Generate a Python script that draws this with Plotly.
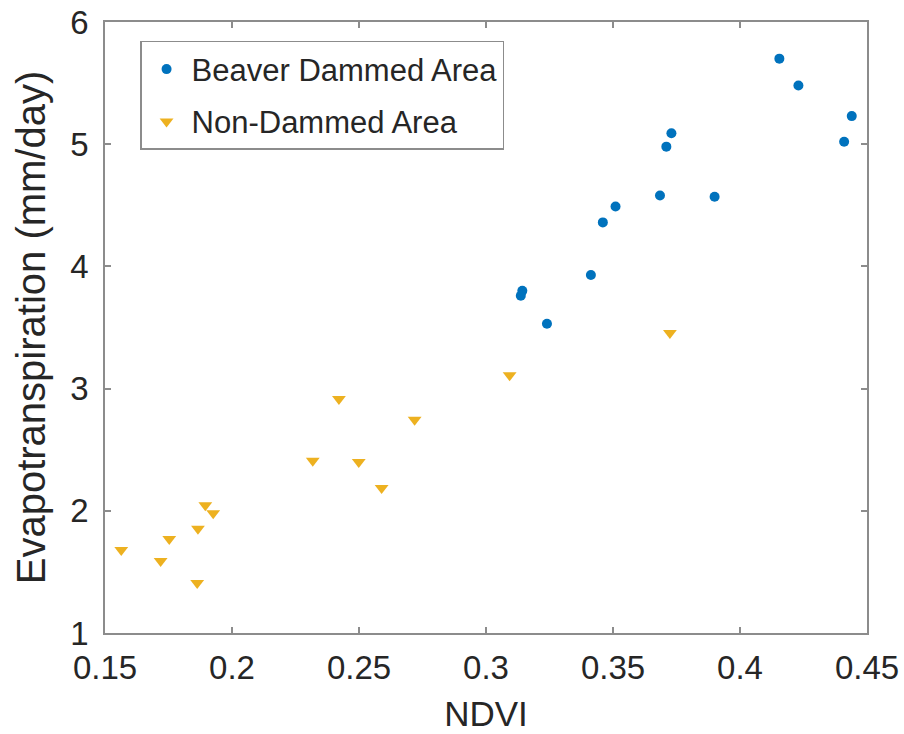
import plotly.graph_objects as go

# Beaver dammed area
beaver_ndvi = [0.4155, 0.423, 0.444, 0.441, 0.373, 0.371, 0.3685, 0.390, 0.351, 0.346, 0.3413, 0.3143, 0.3137, 0.324]
beaver_et = [5.70, 5.48, 5.23, 5.02, 5.09, 4.98, 4.58, 4.57, 4.49, 4.36, 3.93, 3.80, 3.76, 3.53]

# Non-dammed area
non_ndvi = [0.3724, 0.3093, 0.2421, 0.2719, 0.2318, 0.2499, 0.2589, 0.1895, 0.1926, 0.1866, 0.1753, 0.1564, 0.1719, 0.1863]
non_et = [3.455, 3.11, 2.915, 2.745, 2.41, 2.40, 2.187, 2.045, 1.98, 1.854, 1.77, 1.68, 1.59, 1.41]

x_ticks = [0.15, 0.2, 0.25, 0.3, 0.35, 0.4, 0.45]
x_tick_labels = ["0.15", "0.2", "0.25", "0.3", "0.35", "0.4", "0.45"]
y_ticks = [1, 2, 3, 4, 5, 6]
y_tick_labels = ["1", "2", "3", "4", "5", "6"]

FONT = "Liberation Sans, Arial, Helvetica, sans-serif"
TXT = "#262626"
AX = "#8c8c8c"

fig = go.Figure()
fig.add_trace(go.Scatter(
    x=beaver_ndvi, y=beaver_et, mode="markers", name="Beaver Dammed Area",
    legendgroup="a",
    marker=dict(symbol="circle", size=10, color="#0072BD"),
))
fig.add_trace(go.Scatter(
    x=non_ndvi, y=non_et, mode="markers", name="Non-Dammed Area",
    legendgroup="b",
    marker=dict(symbol="triangle-down", size=12, color="#EDB120"),
))

axis_common = dict(
    showgrid=False, zeroline=False, showline=True, linecolor=AX, linewidth=1.5,
    mirror="ticks", ticks="inside", ticklen=6, tickcolor=AX, tickwidth=1.5,
    tickfont=dict(family=FONT, size=33, color=TXT),
    automargin=False,
)

fig.update_layout(
    width=904, height=734,
    margin=dict(l=105, r=37, t=22, b=101),
    paper_bgcolor="white", plot_bgcolor="white",
    font=dict(family=FONT, color=TXT),
    xaxis=dict(
        range=[0.15, 0.45], tickvals=x_ticks, ticktext=x_tick_labels,
        title=dict(text="NDVI", font=dict(family=FONT, size=35, color=TXT), standoff=16),
        ticklabelstandoff=5,
        **axis_common,
    ),
    yaxis=dict(
        range=[1, 6], tickvals=y_ticks, ticktext=y_tick_labels,
        title=dict(text="Evapotranspiration (mm/day)", font=dict(family=FONT, size=40, color=TXT), standoff=12),
        ticklabelstandoff=8,
        **axis_common,
    ),
    legend=dict(
        x=0.046, y=0.969, xanchor="left", yanchor="top",
        bgcolor="white", bordercolor=AX, borderwidth=1.5,
        font=dict(family=FONT, size=31, color=TXT),
        traceorder="grouped", tracegroupgap=9,
        itemwidth=40,
    ),
    showlegend=True,
)

fig.write_html("out.html")
